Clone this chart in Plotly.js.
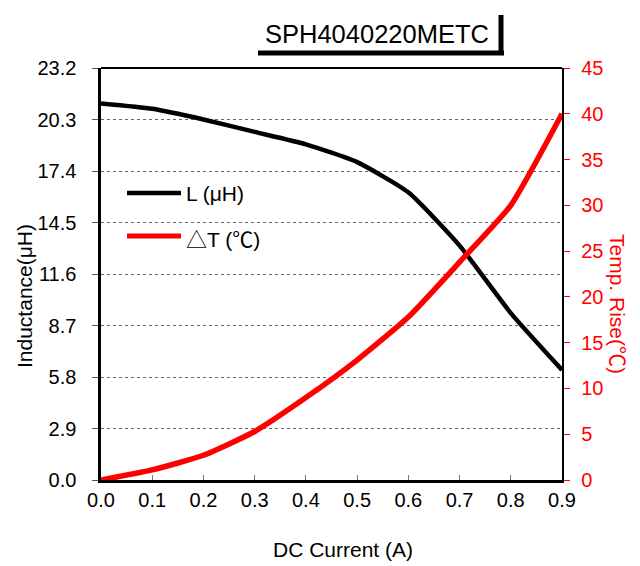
<!DOCTYPE html>
<html>
<head>
<meta charset="utf-8">
<script src="https://cdn.plot.ly/plotly-3.0.1.min.js"></script>
<style>html,body{margin:0;padding:0;background:#fff;}#chart{width:640px;height:566px;}</style>
</head>
<body>
<div id="chart"></div>
<script>
const current = [0.0, 0.1, 0.2, 0.3, 0.4, 0.5, 0.6, 0.7, 0.8, 0.9];
const inductance = [21.2, 20.9, 20.3, 19.6, 18.9, 17.9, 16.2, 13.2, 9.4, 6.2];
const tempRise = [0.0, 1.1, 2.7, 5.3, 9.0, 13.1, 17.8, 23.8, 30.0, 40.0];
const leftTicks = [0.0, 2.9, 5.8, 8.7, 11.6, 14.5, 17.4, 20.3, 23.2];
const rightTicks = [0, 5, 10, 15, 20, 25, 30, 35, 40, 45];
const xTicks = [0.0, 0.1, 0.2, 0.3, 0.4, 0.5, 0.6, 0.7, 0.8, 0.9];
const chartTitle = "SPH4040220METC";
const seriesNames = ["L (μH)", "△T (℃)"];

const FONT = '"Liberation Sans", Arial, sans-serif';
const TFS = 20;   // tick label size
const AFS = 21;   // axis title / legend size
const CJK = "'Noto Sans CJK JP'";
const cjk = s => s.replace(/[△℃]/g, c => `<span style="font-family:${CJK}">${c}</span>`);
// pixel helpers -> paper coords (plot area: x 101..562, y 68..480)
const px = x => (x - 101) / 461;
const py = y => (480 - y) / 412;
const ZW = '\u200b';

const traces = [
  {x: current, y: inductance, name: seriesNames[0], type: 'scatter', mode: 'lines',
   line: {color: '#000', width: 4.5, shape: 'spline', smoothing: 0.5}, yaxis: 'y', showlegend: false},
  {x: current, y: tempRise, name: seriesNames[1], type: 'scatter', mode: 'lines',
   line: {color: '#ff0000', width: 5.5, shape: 'spline', smoothing: 0.5}, yaxis: 'y2', showlegend: false}
];

const layout = {
  width: 640, height: 566,
  margin: {l: 101, r: 78, t: 68, b: 86},
  paper_bgcolor: '#fff', plot_bgcolor: '#fff',
  font: {family: FONT, size: TFS, color: '#000'},
  showlegend: false,
  xaxis: {
    range: [0, 0.9], tickvals: xTicks, ticktext: xTicks.map(v => v.toFixed(1)),
    ticks: 'inside', ticklen: 5, tickcolor: '#777', tickwidth: 1, ticklabelstandoff: 5.5,
    showline: true, linecolor: '#000', linewidth: 3, showgrid: false, zeroline: false,
    tickfont: {family: FONT, size: TFS, color: '#000'}
  },
  yaxis: {
    range: [0, 23.2], tickvals: leftTicks, ticktext: leftTicks.map(v => v.toFixed(1) + '\u2002\u200a' + ZW),
    ticks: 'outside', ticklen: 6, tickcolor: '#555', tickwidth: 1,
    showline: true, linecolor: '#000', linewidth: 3,
    showgrid: true, gridcolor: '#666', gridwidth: 1, griddash: 'dot', zeroline: false,
    tickfont: {family: FONT, size: TFS, color: '#000'}
  },
  yaxis2: {
    range: [0, 45], tickvals: rightTicks, ticktext: rightTicks.map(v => ZW + '\u00a0\u200a' + v),
    overlaying: 'y', side: 'right',
    ticks: 'outside', ticklen: 6, tickcolor: '#ff0000', tickwidth: 1,
    showline: true, linecolor: '#000', linewidth: 2,
    showgrid: false, zeroline: false,
    tickfont: {family: FONT, size: TFS, color: '#ff0000'}
  },
  shapes: [
    {type: 'line', xref: 'paper', yref: 'paper', x0: 0, x1: 1, y0: 1, y1: 1, line: {color: '#000', width: 2}},
    {type: 'line', xref: 'paper', yref: 'paper', x0: px(258), x1: px(504), y0: py(53), y1: py(53), line: {color: '#000', width: 5}},
    {type: 'line', xref: 'paper', yref: 'paper', x0: px(501), x1: px(501), y0: py(15), y1: py(55), line: {color: '#000', width: 5}},
    {type: 'line', xref: 'paper', yref: 'paper', x0: px(127), x1: px(181), y0: py(193), y1: py(193), line: {color: '#000', width: 4.5}},
    {type: 'line', xref: 'paper', yref: 'paper', x0: px(127), x1: px(181), y0: py(236), y1: py(236), line: {color: '#ff0000', width: 5}}
  ],
  annotations: [
    {text: chartTitle, xref: 'paper', yref: 'paper', x: px(377), y: py(34), showarrow: false,
     xanchor: 'center', yanchor: 'middle', font: {family: FONT, size: 25.5, color: '#000'}},
    {text: cjk(seriesNames[0]), xref: 'paper', yref: 'paper', x: px(184), y: py(193), showarrow: false,
     xanchor: 'left', yanchor: 'middle', font: {family: FONT, size: AFS, color: '#000'}},
    {text: cjk(seriesNames[1]), xref: 'paper', yref: 'paper', x: px(184), y: py(238), showarrow: false,
     xanchor: 'left', yanchor: 'middle', font: {family: FONT, size: AFS, color: '#000'}},
    {text: 'Inductance(μH)', xref: 'paper', yref: 'paper', x: px(24), y: py(296), showarrow: false,
     xanchor: 'center', yanchor: 'middle', textangle: -90, font: {family: FONT, size: AFS, color: '#000'}},
    {text: cjk('Temp. Rise(℃)'), xref: 'paper', yref: 'paper', x: px(619), y: py(304), showarrow: false,
     xanchor: 'center', yanchor: 'middle', textangle: 90, font: {family: FONT, size: AFS, color: '#ff0000'}},
    {text: 'DC Current (A)', xref: 'paper', yref: 'paper', x: px(343), y: py(549), showarrow: false,
     xanchor: 'center', yanchor: 'middle', font: {family: FONT, size: AFS, color: '#000'}}
  ]
};

Plotly.newPlot('chart', traces, layout, {displayModeBar: false, staticPlot: true});
</script>
</body>
</html>
